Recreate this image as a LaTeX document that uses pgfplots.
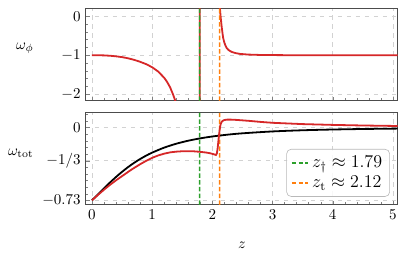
\documentclass[border=0pt]{standalone}
\usepackage{pgfplots}
\pgfplotsset{compat=1.18}
\definecolor{tabred}{RGB}{214,39,40}
\definecolor{tabgreen}{RGB}{44,160,44}
\definecolor{taborange}{RGB}{255,127,14}
\begin{document}
\begin{tikzpicture}
\useasboundingbox (-57.3pt,-38.2pt) rectangle (214pt,136.5pt);
\pgfplotsset{
  myax/.style={
    scale only axis, width=207.8pt,
    xmin=-0.1, xmax=5.08,
    xtick={0,1,2,3,4,5}, minor x tick num=4,
    tick align=inside, xtick pos=left, ytick pos=left,
    major tick length=2.8pt, minor tick length=1.6pt,
    grid=major, major grid style={dashed, gray!35, line width=0.4pt},
    axis line style={black!70, line width=0.7pt},
    every axis y label/.style={anchor=center},
  },
  zl/.style={line width=1pt, dash pattern=on 3pt off 1.5pt},
}
% top panel
\begin{axis}[myax, at={(0pt,69.3pt)}, anchor=south west, height=61.6pt,
  ymin=-2.17, ymax=0.2, ytick={0,-1,-2}, minor y tick num=4,
  xticklabels={},
  ylabel={$\omega_\phi$},
  every axis y label/.append style={at={(axis description cs:-0.196,0.57)}},
]
\addplot[tabred, line width=1.2pt] coordinates {
(0,-1.0) (0.1,-1.002) (0.2,-1.006) (0.3,-1.015) (0.4,-1.03) (0.5,-1.05) (0.6,-1.08) (0.7,-1.12) (0.8,-1.17) (0.9,-1.23) (1.0,-1.31) (1.1,-1.42) (1.2,-1.58) (1.25,-1.69) (1.3,-1.83) (1.35,-2.02) (1.4,-2.24) (1.5,-2.9) (1.6,-4) (1.7,-7) (1.7885,-60)
(1.7915,60) (1.9,8) (2.0,3) (2.1,0.8) (2.12,0.35) (2.13,0.12) (2.14,-0.05) (2.155,-0.27) (2.17,-0.45) (2.18,-0.56) (2.2,-0.68) (2.22,-0.76) (2.24,-0.82) (2.27,-0.87) (2.32,-0.915) (2.38,-0.945) (2.46,-0.968) (2.6,-0.985) (2.8,-0.995) (3.2,-1.0) (5.2,-1.0)
};
\addplot[tabgreen, zl] coordinates {(1.7895,-2.17) (1.7905,0.2)};
\addplot[taborange, zl] coordinates {(2.1195,-2.17) (2.1205,0.2)};
\end{axis}
% bottom panel
\begin{axis}[myax, at={(0pt,0pt)}, anchor=south west, height=61.3pt,
  ymin=-0.775, ymax=0.146,
  ytick={0,-0.33333,-0.73}, yticklabels={$0$,$-1/3$,$-0.73$},
  minor ytick={0.13333,0.06667,-0.06667,-0.13333,-0.2,-0.26667,-0.4,-0.46667,-0.53333,-0.6,-0.66667},
  xlabel={$z$},
  every axis x label/.style={at={(axis description cs:0.5,-0.435)}, anchor=center},
  ylabel={$\omega_{\rm tot}$},
  every axis y label/.append style={at={(axis description cs:-0.209,0.562)}},
  legend style={at={(axis description cs:0.975,0.087)}, anchor=south east,
    draw=gray!55, rounded corners=3pt, fill=white, fill opacity=0.85, text opacity=1,
    inner xsep=3pt, inner ysep=2.5pt, row sep=0pt,
    font=\fontsize{11.5}{13}\selectfont},
  legend cell align=left,
  legend image code/.code={\draw[#1] (0pt,0pt) -- (11pt,0pt);},
]
\addplot[tabgreen, zl] coordinates {(1.7895,-0.775) (1.7905,0.146)};
\addlegendentry{$z_\dagger \approx 1.79$}
\addplot[taborange, zl] coordinates {(2.1195,-0.775) (2.1205,0.146)};
\addlegendentry{$z_{\rm t} \approx 2.12$}
\addplot[black, line width=1.2pt, smooth, forget plot] coordinates {
(0,-0.73) (0.1,-0.6701) (0.2,-0.6101) (0.3,-0.5517) (0.4,-0.4963) (0.5,-0.4448) (0.6,-0.3976) (0.7,-0.3550) (0.8,-0.3168) (0.9,-0.2827) (1.0,-0.2526) (1.2,-0.2025) (1.4,-0.1636) (1.6,-0.1333) (1.8,-0.1097) (2.0,-0.0910) (2.25,-0.0730) (2.5,-0.0593) (3.0,-0.0405) (3.5,-0.0288) (4.0,-0.0212) (4.5,-0.0160) (5.0,-0.0124) (5.2,-0.0113)
};
\addplot[tabred, line width=1.2pt, forget plot] coordinates {
(0,-0.73) (0.1,-0.676) (0.2,-0.624) (0.3,-0.575) (0.4,-0.530) (0.5,-0.488) (0.6,-0.446) (0.7,-0.406) (0.8,-0.369) (0.9,-0.335) (1.0,-0.305) (1.1,-0.281) (1.2,-0.263) (1.3,-0.250) (1.4,-0.243) (1.5,-0.239) (1.6,-0.238) (1.7,-0.240) (1.8,-0.245) (1.9,-0.252) (1.97,-0.26) (2.03,-0.270) (2.06,-0.277) (2.075,-0.262) (2.09,-0.20) (2.105,-0.11) (2.12,-0.03) (2.135,0.025) (2.15,0.05) (2.17,0.065) (2.2,0.074) (2.25,0.078) (2.3,0.078) (2.4,0.075) (2.6,0.066) (2.8,0.055) (3.0,0.046) (3.5,0.033) (4.0,0.025) (4.5,0.019) (5.2,0.013)
};
\end{axis}
\end{tikzpicture}
\end{document}
